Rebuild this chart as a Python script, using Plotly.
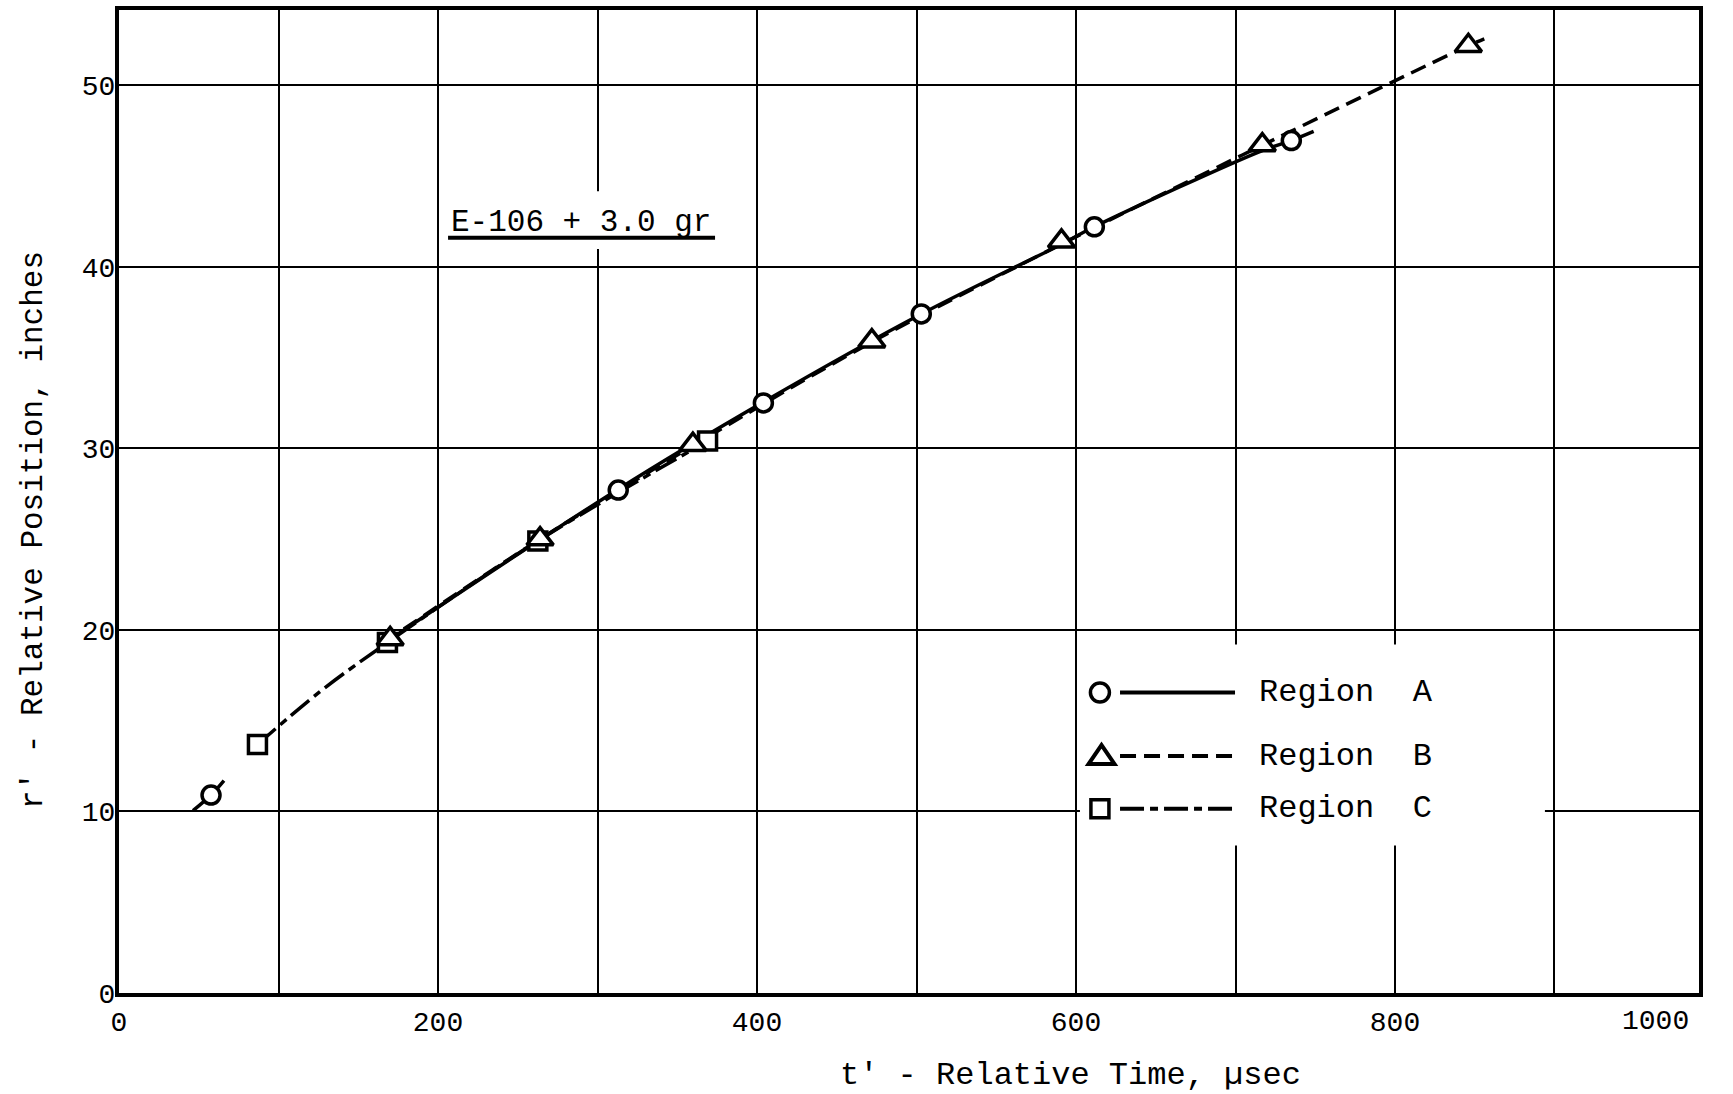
import plotly.graph_objects as go

# Measured points: t' (microseconds) and r' (inches)
region_a_t = [57.7, 313.0, 404.0, 503.0, 611.5, 735.0]
region_a_r = [10.9, 27.7, 32.5, 37.4, 42.2, 46.95]
region_b_t = [170.0, 264.0, 359.8, 472.0, 590.9, 716.8, 846.0]
region_b_r = [19.5, 25.0, 30.2, 35.9, 41.4, 46.7, 52.17]
region_c_t = [86.8, 168.3, 262.6, 369.0]
region_c_r = [13.68, 19.3, 24.9, 30.4]

# Faired curves drawn through each region
curve_a1_t = [46.4, 57.7, 65.8]
curve_a1_r = [10.04, 10.9, 11.7]
curve_a2_t = [172.0, 313.0, 404.0, 503.0, 590.0, 611.5, 716.8, 735.0, 749.0]
curve_a2_r = [19.6, 27.75, 32.55, 37.4, 41.2, 42.2, 46.4, 46.95, 47.45]
curve_b_t = [166.0, 264.0, 360.0, 472.0, 591.0, 717.0, 846.0, 856.0]
curve_b_r = [19.3, 25.0, 30.15, 35.85, 41.25, 46.7, 52.17, 52.55]
curve_c_t = [86.8, 126.0, 168.3, 262.6, 369.0]
curve_c_r = [13.68, 16.6, 19.3, 24.9, 30.4]

x_ticks = [0, 200, 400, 600, 800]
y_ticks = [0, 10, 20, 30, 40, 50]
legend_names = ["Region  A", "Region  B", "Region  C"]

FONT = "Liberation Mono"
INK = "black"
DASH_B = "16px,8px"
DASH_C = "24px,6px,8px,6px"
LW = 3.5

fig = go.Figure()

# curves first so every marker sits on top of all lines
fig.add_trace(go.Scatter(x=curve_a1_t, y=curve_a1_r, mode="lines",
                         line=dict(color=INK, width=LW, shape="spline"), showlegend=False))
fig.add_trace(go.Scatter(x=curve_c_t, y=curve_c_r, mode="lines",
                         line=dict(color=INK, width=LW, dash=DASH_C, shape="spline"), showlegend=False))
fig.add_trace(go.Scatter(x=curve_b_t, y=curve_b_r, mode="lines",
                         line=dict(color=INK, width=LW, dash=DASH_B, shape="spline"), showlegend=False))
fig.add_trace(go.Scatter(x=curve_a2_t, y=curve_a2_r, mode="lines",
                         line=dict(color=INK, width=LW, shape="spline"), showlegend=False))

marker_line = dict(color=INK, width=3.5)
fig.add_trace(go.Scatter(x=region_c_t, y=region_c_r, mode="markers", name=legend_names[2],
                         marker=dict(symbol="square", size=18, color="white", line=marker_line),
                         showlegend=False))
fig.add_trace(go.Scatter(x=region_b_t, y=region_b_r, mode="markers", name=legend_names[1],
                         marker=dict(symbol="triangle-up", size=23, color="white", line=marker_line),
                         showlegend=False))
fig.add_trace(go.Scatter(x=region_a_t, y=region_a_r, mode="markers", name=legend_names[0],
                         marker=dict(symbol="circle", size=18, color="white", line=marker_line),
                         showlegend=False))

shapes = [
    # white patches that interrupt the grid behind the label and key
    dict(type="rect", xref="x", yref="y", x0=204.4, x1=376.8, y0=40.98, y1=44.16,
         line=dict(width=0), fillcolor="white", layer="between"),
    dict(type="rect", xref="x", yref="y", x0=602.5, x1=894.0, y0=8.12, y1=19.2,
         line=dict(width=0), fillcolor="white", layer="between"),
    # underline of the charge label
    dict(type="line", xref="x", yref="y", x0=206.3, x1=373.7, y0=41.6, y1=41.6,
         line=dict(color=INK, width=4)),
]

# hand-drawn key
key_x_marker = 615.0
key_x0, key_x1 = 627.6, 699.7
key_y = [16.55, 13.05, 10.15]
key_dash = ["solid", DASH_B, DASH_C]
for ky, dsh in zip(key_y, key_dash):
    shapes.append(dict(type="line", xref="x", yref="y", x0=key_x0, x1=key_x1, y0=ky, y1=ky,
                       line=dict(color=INK, width=4, dash=dsh)))
shapes.append(dict(type="circle", xref="x", yref="y", xsizemode="pixel", ysizemode="pixel",
                   xanchor=key_x_marker, yanchor=key_y[0], x0=-9.5, x1=9.5, y0=-9.5, y1=9.5,
                   line=dict(color=INK, width=3.5), fillcolor="white"))
shapes.append(dict(type="path", xref="x", yref="y", xsizemode="pixel", ysizemode="pixel",
                   xanchor=key_x_marker + 1, yanchor=key_y[1],
                   path="M -13 -8 L 13 -8 L 0 11 Z",
                   line=dict(color=INK, width=4), fillcolor="white"))
shapes.append(dict(type="rect", xref="x", yref="y", xsizemode="pixel", ysizemode="pixel",
                   xanchor=key_x_marker, yanchor=key_y[2], x0=-9, x1=9, y0=-9, y1=9,
                   line=dict(color=INK, width=3.5), fillcolor="white"))

annotations = [
    dict(text="E-106 + 3.0 gr", xref="x", yref="y", x=289.5, y=42.45, showarrow=False,
         xanchor="center", yanchor="middle", font=dict(family=FONT, size=31, color=INK)),
    dict(text="t' - Relative Time, \u00b5sec", xref="paper", yref="paper", x=0.6025, y=-0.084,
         showarrow=False, xanchor="center", yanchor="middle",
         font=dict(family=FONT, size=32, color=INK)),
    dict(text="r' - Relative Position, inches", xref="paper", yref="paper", x=-0.0544, y=0.471,
         showarrow=False, textangle=-90, xanchor="center", yanchor="middle",
         font=dict(family=FONT, size=31, color=INK)),
    dict(text="1000", xref="x", yref="paper", x=985.6, y=-0.0294, showarrow=False,
         xanchor="right", yanchor="middle", font=dict(family=FONT, size=28, color=INK)),
]
for ky, name in zip(key_y, legend_names):
    annotations.append(dict(text=name, xref="x", yref="y", x=713.5, y=ky, showarrow=False,
                            xanchor="left", yanchor="middle",
                            font=dict(family=FONT, size=32, color=INK)))

axis_common = dict(showline=True, mirror=True, linecolor=INK, linewidth=4,
                   showgrid=True, gridcolor=INK, gridwidth=1.5, zeroline=False,
                   ticks="", tickfont=dict(family=FONT, size=28, color=INK))

fig.update_layout(
    width=1733, height=1094,
    margin=dict(l=119, r=34, t=6, b=101),
    paper_bgcolor="white", plot_bgcolor="white",
    showlegend=False,
    shapes=shapes, annotations=annotations,
    xaxis=dict(range=[0, 990.6], tickmode="array", tickvals=x_ticks,
               ticktext=[str(v) for v in x_ticks], ticklabelstandoff=0, **axis_common),
    yaxis=dict(range=[0, 54.14], tickmode="array", tickvals=y_ticks,
               ticktext=[str(v) for v in y_ticks], ticklabelstandoff=-6, **axis_common),
)
# vertical grid every 100 and horizontal every 10 via minor grid
fig.update_xaxes(minor=dict(dtick=100, tick0=0, showgrid=True, gridcolor=INK, gridwidth=1.5, ticks=""))
fig.update_yaxes(minor=dict(dtick=10, tick0=0, showgrid=True, gridcolor=INK, gridwidth=1.5, ticks=""))

fig.write_html("out.html")
